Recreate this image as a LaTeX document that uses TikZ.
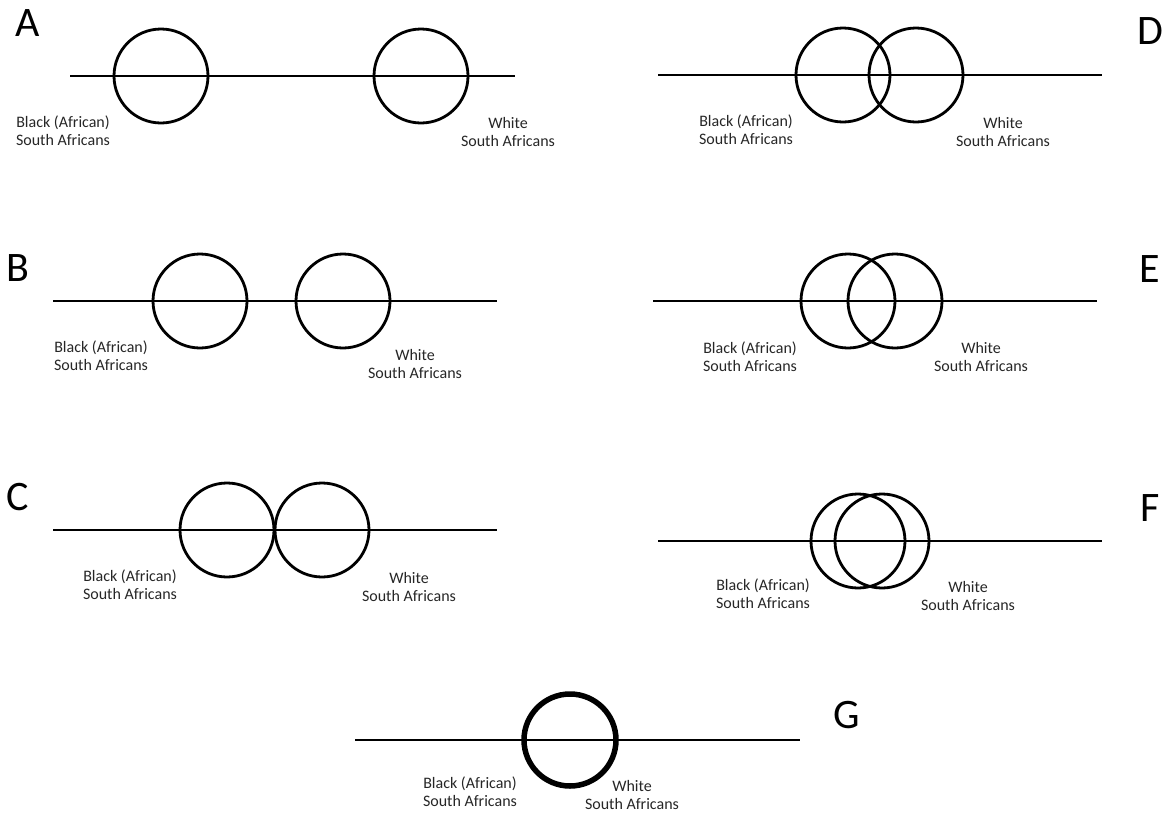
\documentclass[tikz,border=0pt]{standalone}
\usepackage{fontspec}
\setmainfont{Carlito}
\begin{document}
\begin{tikzpicture}[x=1pt,y=-1pt,
  ring/.style={circle,draw,line width=2.8pt,minimum size=94pt,inner sep=0pt},
  thickring/.style={circle,draw,line width=5.5pt,minimum size=92pt,inner sep=0pt},
  axis/.style={line width=2.8pt},
  lbl/.style={align=center,inner sep=0pt,text=black!85,font=\fontsize{16}{18}\selectfont},
  letter/.style={inner sep=0pt,font=\fontsize{42}{50}\selectfont}]
\useasboundingbox (0,0) rectangle (1165,812);
% Panel A
\coordinate (a0) at (70,76); \coordinate (a9) at (515,76);
\draw[axis] (a0) -- (a9);
\node[ring] (a1) at (161,76) {};
\node[ring] (a2) at (421,76) {};
\node[letter] (aL) at (28,23) {A};
\node[lbl] (aB) at (63,131) {Black (African)\\South Africans};
\node[lbl] (aW) at (508,132) {White\\South Africans};
% Panel D
\coordinate (d0) at (658,75); \coordinate (d9) at (1102,75);
\draw[axis] (d0) -- (d9);
\node[ring] (d1) at (843,75) {};
\node[ring] (d2) at (916,75) {};
\node[letter] (dL) at (1150,31) {D};
\node[lbl] (dB) at (746,130) {Black (African)\\South Africans};
\node[lbl] (dW) at (1003,132) {White\\South Africans};
% Panel B
\coordinate (b0) at (53,301); \coordinate (b9) at (497,301);
\draw[axis] (b0) -- (b9);
\node[ring] (b1) at (200,301) {};
\node[ring] (b2) at (343,301) {};
\node[letter] (bL) at (18,268) {B};
\node[lbl] (bB) at (101,356) {Black (African)\\South Africans};
\node[lbl] (bW) at (415,364) {White\\South Africans};
% Panel E
\coordinate (e0) at (653,301); \coordinate (e9) at (1097,301);
\draw[axis] (e0) -- (e9);
\node[ring] (e1) at (848,301) {};
\node[ring] (e2) at (895,301) {};
\node[letter] (eL) at (1150,269) {E};
\node[lbl] (eB) at (750,357) {Black (African)\\South Africans};
\node[lbl] (eW) at (981,357) {White\\South Africans};
% Panel C
\coordinate (c0) at (53,530); \coordinate (c9) at (497,530);
\draw[axis] (c0) -- (c9);
\node[ring] (c1) at (227,530) {};
\node[ring] (c2) at (322,530) {};
\node[letter] (cL) at (18,497) {C};
\node[lbl] (cB) at (130,585) {Black (African)\\South Africans};
\node[lbl] (cW) at (409,587) {White\\South Africans};
% Panel F
\coordinate (f0) at (658,541); \coordinate (f9) at (1102,541);
\draw[axis] (f0) -- (f9);
\node[ring] (f1) at (858,541) {};
\node[ring] (f2) at (882,541) {};
\node[letter] (fL) at (1150,508) {F};
\node[lbl] (fB) at (763,594) {Black (African)\\South Africans};
\node[lbl] (fW) at (968,596) {White\\South Africans};
% Panel G
\coordinate (g0) at (355,740); \coordinate (g9) at (800,740);
\draw[axis] (g0) -- (g9);
\node[thickring] (g1) at (570,740) {};
\node[letter] (gL) at (847,715) {G};
\node[lbl] (gB) at (470,792) {Black (African)\\South Africans};
\node[lbl] (gW) at (632,795) {White\\South Africans};
\end{tikzpicture}
\end{document}
